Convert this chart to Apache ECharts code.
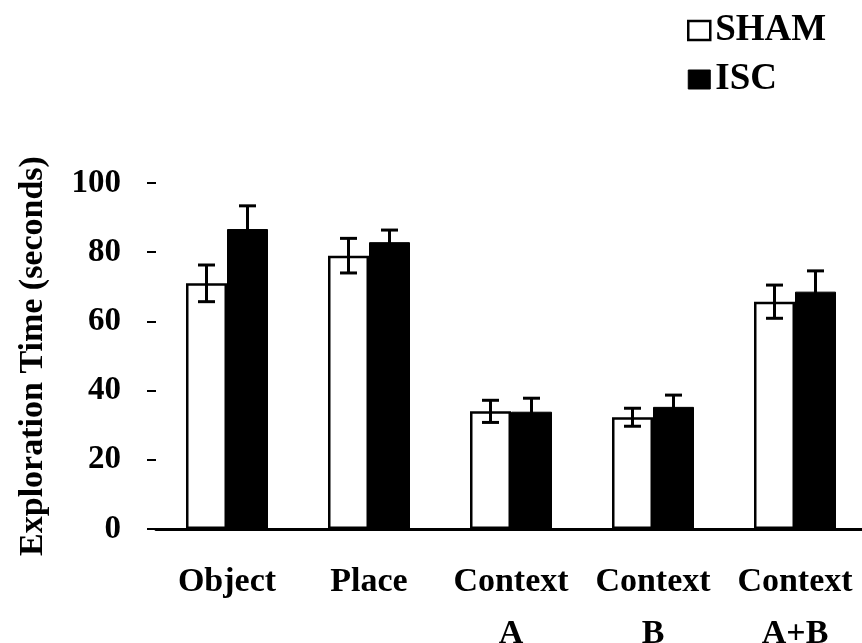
<!DOCTYPE html>
<html>
<head>
<meta charset="utf-8">
<script src="https://cdn.jsdelivr.net/npm/echarts@6/dist/echarts.min.js"></script>
<style>
  html, body { margin: 0; padding: 0; background: #fff; }
  #main { width: 862px; height: 643px; }
</style>
</head>
<body>
<div id="main"></div>
<script>
// Exploration time by task, sham vs ischemia
var categories = ['Object', 'Place', 'Context\nA', 'Context\nB', 'Context\nA+B'];
var shamValues = [71, 79, 34, 32.3, 65.7];
var shamErrors = [5.3, 5, 3.2, 2.6, 4.8];
var iscValues = [86.7, 82.9, 33.9, 35.3, 68.6];
var iscErrors = [6.7, 3.5, 3.9, 3.4, 6];
var yTicks = [0, 20, 40, 60, 80, 100];

var chartDom = document.getElementById('main');
var myChart = echarts.init(chartDom);
var option;

var FONT = "'Liberation Serif', 'Times New Roman', serif";
var BAR_W = 41;

function errorSeries(name, values, errors, offset) {
    var data = values.map(function (v, i) {
        return [i, v - errors[i], v + errors[i]];
    });
    return {
        name: name,
        type: 'custom',
        z: 5,
        silent: true,
        data: data,
        renderItem: function (params, api) {
            var lo = api.coord([api.value(0), api.value(1)]);
            var hi = api.coord([api.value(0), api.value(2)]);
            var x = lo[0] + offset;
            var cap = 8.5;
            var st = { stroke: '#000', lineWidth: 3 };
            return {
                type: 'group',
                children: [
                    { type: 'line', shape: { x1: x, y1: lo[1], x2: x, y2: hi[1] }, style: st },
                    { type: 'line', shape: { x1: x - cap, y1: hi[1], x2: x + cap, y2: hi[1] }, style: st },
                    { type: 'line', shape: { x1: x - cap, y1: lo[1], x2: x + cap, y2: lo[1] }, style: st }
                ]
            };
        }
    };
}

option = {
    animation: false,
    backgroundColor: '#fff',
    textStyle: { fontFamily: FONT },
    grid: {
        left: 156,
        top: 183,
        width: 710,
        height: 346,
        containLabel: false,
        outerBoundsMode: 'none'
    },
    legend: {
        orient: 'vertical',
        left: 687,
        top: 12,
        padding: 0,
        itemWidth: 22,
        itemHeight: 19,
        itemGap: 12,
        icon: 'rect',
        textStyle: {
            fontFamily: FONT,
            fontSize: 37,
            fontWeight: 'bold',
            color: '#000',
            lineHeight: 37
        },
        data: [
            { name: 'SHAM', itemStyle: { color: '#fff', borderColor: '#000', borderWidth: 2.5 } },
            { name: 'ISC', itemStyle: { color: '#000', borderColor: '#000', borderWidth: 1 } }
        ]
    },
    xAxis: {
        type: 'category',
        data: categories,
        axisLine: { show: true, lineStyle: { color: '#000', width: 3 } },
        axisTick: { show: false },
        axisLabel: {
            fontFamily: FONT,
            fontSize: 34,
            fontWeight: 'bold',
            color: '#000',
            lineHeight: 52,
            margin: 27,
            interval: 0
        }
    },
    yAxis: {
        type: 'value',
        min: 0,
        max: 100,
        interval: 20,
        name: 'Exploration Time (seconds)',
        nameLocation: 'middle',
        nameGap: 106,
        nameTextStyle: {
            fontFamily: FONT,
            fontSize: 34,
            fontWeight: 'bold',
            color: '#000'
        },
        axisLine: { show: false },
        axisTick: { show: true, length: 9, lineStyle: { color: '#000', width: 2 } },
        splitLine: { show: false },
        axisLabel: {
            fontFamily: FONT,
            fontSize: 33,
            fontWeight: 'bold',
            color: '#000',
            margin: 35,
            customValues: yTicks
        }
    },
    series: [
        {
            name: 'SHAM',
            type: 'bar',
            data: shamValues,
            barWidth: BAR_W,
            barGap: '0%',
            itemStyle: { color: '#fff', borderColor: '#000', borderWidth: 2.5 }
        },
        {
            name: 'ISC',
            type: 'bar',
            data: iscValues,
            barWidth: BAR_W,
            barGap: '0%',
            itemStyle: { color: '#000', borderColor: '#000', borderWidth: 1 }
        },
        errorSeries('SHAM error', shamValues, shamErrors, -BAR_W / 2),
        errorSeries('ISC error', iscValues, iscErrors, BAR_W / 2)
    ]
};

option && myChart.setOption(option);
</script>
</body>
</html>
